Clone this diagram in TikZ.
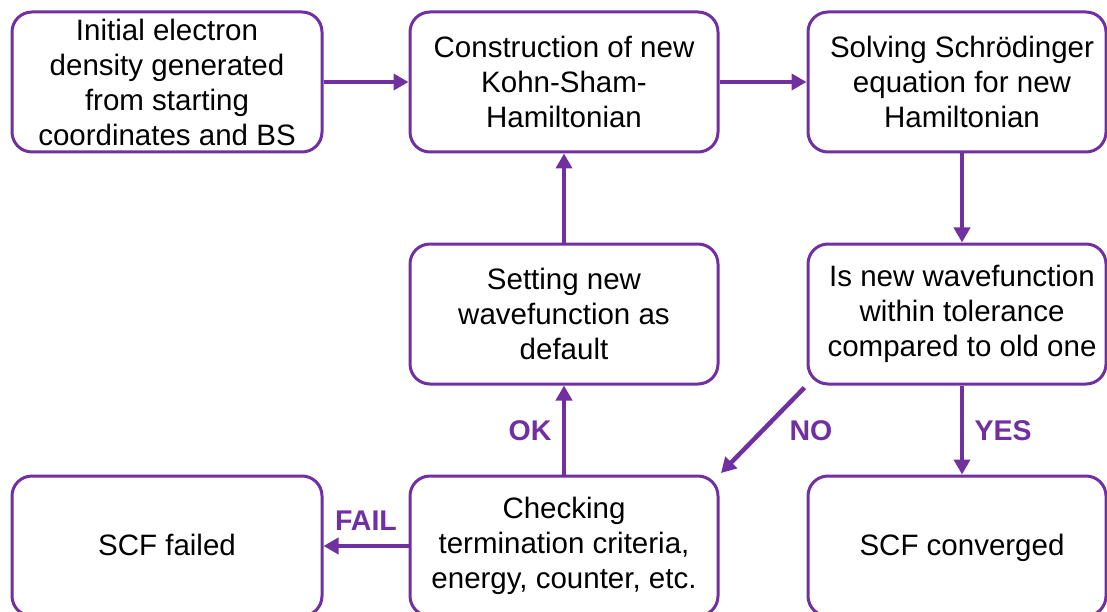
\documentclass[tikz,border=0pt]{standalone}
\usepackage{fontspec}
\setmainfont{Liberation Sans}
\usetikzlibrary{arrows.meta}
\definecolor{vio}{HTML}{7030A0}
\tikzset{
  box/.style={draw=vio, line width=3pt, rounded corners=20pt, minimum height=140pt,
    inner sep=0pt, align=center, font=\fontsize{29.5}{35}\selectfont, text=black},
  txt/.style={inner sep=0pt, align=center, font=\fontsize{29.5}{35}\selectfont, text=black},
  conn/.style={draw=vio, line width=4.5pt, -{Triangle[length=15pt,width=16pt]}},
  lab/.style={text=vio, font=\fontsize{28.5}{32}\selectfont\bfseries}
}
\begin{document}
\begin{tikzpicture}[x=1pt,y=-1pt]
\useasboundingbox (0,0) rectangle (1107,612);
\node[box, minimum width=310pt] (b1) at (167,82) {Initial electron\\density generated\\from starting\\coordinates and BS};
\node[box, minimum width=308pt] (b2) at (564,82) {Construction of new\\Kohn-Sham-\\Hamiltonian};
\node[box, minimum width=298pt] (b3) at (957,82) {};
\node[txt] (t3) at ([xshift=5pt]b3.center) {Solving Schrödinger\\equation for new\\Hamiltonian};
\node[box, minimum width=308pt] (b4) at (564,314) {Setting new\\wavefunction as\\default};
\node[box, minimum width=298pt] (b5) at (957,314) {};
\node[txt] (t5) at ([xshift=5pt]b5.center) {Is new wavefunction\\within tolerance\\compared to old one};
\node[box, minimum width=310pt] (b6) at (167,546) {};
\node[txt, anchor=base] (t6) at (167,555) {SCF failed};
\node[box, minimum width=308pt] (b7) at (564,546) {Checking\\termination criteria,\\energy, counter, etc.};
\node[box, minimum width=298pt] (b8) at (957,546) {};
\node[txt, anchor=base] (t8) at (962,555) {SCF converged};

\draw[conn] (b1.east) -- (b2.west);
\draw[conn] (b2.east) -- (b3.west);
\draw[conn] ([xshift=5pt]b3.south) -- ([xshift=5pt]b5.north);
\draw[conn] (b4.north) -- (b2.south);
\draw[conn] (b7.north) -- (b4.south);
\draw[conn] (b7.west) -- (b6.east);
\draw[conn] ([xshift=5pt]b5.south) -- ([xshift=5pt]b8.north);
\draw[conn, shorten <=3pt, shorten >=2pt] (b5.south west) -- (b7.north east);

\node[lab] (lno) at (811,431) {NO};
\node[lab] (lyes) at (1003,431) {YES};
\node[lab] (lok) at (530,431) {OK};
\node[lab] (lfail) at (366,521) {FAIL};
\end{tikzpicture}
\end{document}
